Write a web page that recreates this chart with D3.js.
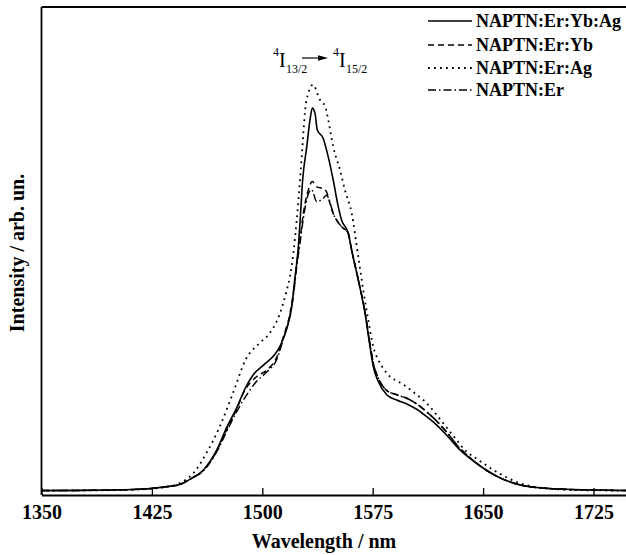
<!DOCTYPE html>
<html>
<head>
	<meta charset="utf-8">
	<title>NAPTN emission spectra</title>
	<script src="https://d3js.org/d3.v7.min.js"></script>
	<style type="text/css">
		body {
			margin: 0;
			background: #fff;
		}
		svg {
			display: block;
			font-family: "Liberation Serif", "Times New Roman", serif;
		}
		.frame {
			stroke: #000;
			stroke-width: 1.8;
			fill: none;
		}
		.legend text {
			font-size: 18px;
			font-weight: bold;
		}
		.spectrum {
			fill: none;
			stroke: #000;
			stroke-linejoin: round;
		}
	</style>
</head>
<body>

<div id="chart"></div>

<script>
	// wavelength (nm) / intensity (arb. un.)
	var wlYbAg = [1350, 1380, 1400, 1415, 1425, 1435, 1444, 1452, 1460, 1469, 1476, 1483, 1488, 1494, 1501, 1509, 1512, 1517, 1520, 1522, 1524.5, 1526, 1527.4, 1530.2, 1532.4, 1534, 1535.8, 1537.4, 1541.4, 1544.8, 1548.2, 1551.6, 1553.9, 1558.4, 1560.7, 1565.2, 1569.8, 1573.2, 1575.4, 1578.8, 1584.5, 1591.3, 1598.1, 1604.9, 1611.7, 1618.5, 1625.3, 1633.2, 1640, 1648, 1661.5, 1675, 1690, 1702, 1730, 1750];
	var inYbAg = [0, 0.05, 0.15, 0.3, 0.5, 0.9, 1.4, 2.8, 4.7, 9.2, 14.5, 19.1, 23.0, 26.4, 28.6, 31.2, 32.8, 37.3, 41.8, 47.9, 55.5, 63.1, 70.6, 78.2, 84.3, 87.0, 85.8, 82.0, 80.1, 75.9, 70.6, 64.6, 61.5, 58.5, 54.7, 47.9, 40.3, 32.7, 28.2, 24.8, 21.8, 20.6, 19.7, 18.5, 16.8, 14.9, 12.6, 9.6, 7.6, 5.6, 2.9, 1.3, 0.6, 0.35, 0.1, 0];

	var wlYb = [1350, 1400, 1425, 1435, 1444, 1452, 1460, 1469, 1476, 1483, 1487, 1496, 1503, 1510, 1514.3, 1518.8, 1521.1, 1523.4, 1525.6, 1527.9, 1531.3, 1534, 1537, 1541.4, 1543.7, 1546, 1548.2, 1550.5, 1553.9, 1558.4, 1560.7, 1565.2, 1569.8, 1573.2, 1575.4, 1578.8, 1584.5, 1591.3, 1598.1, 1604.9, 1611.7, 1618.5, 1625.3, 1633.2, 1640, 1648, 1661.5, 1675, 1690, 1702, 1730, 1750];
	var inYb = [0, 0.15, 0.5, 0.9, 1.4, 2.8, 4.6, 9.0, 14.0, 18.8, 22.1, 25.9, 27.4, 30.5, 35.0, 40.3, 44.9, 51.7, 57.0, 63.1, 68.4, 70.3, 69.1, 68.7, 67.9, 65.3, 63.0, 61.5, 60.0, 58.5, 54.7, 48.0, 40.6, 33.2, 29.0, 25.6, 22.8, 21.8, 21.0, 19.7, 17.9, 15.8, 13.3, 10.0, 7.8, 5.6, 2.9, 1.3, 0.6, 0.35, 0.1, 0];

	var wlAg = [1350, 1399, 1424, 1434, 1444, 1453, 1462, 1471, 1480, 1489, 1498, 1505, 1512, 1516.6, 1518.8, 1521.1, 1523.4, 1525.6, 1526.8, 1527.9, 1529, 1531.3, 1534.4, 1539.2, 1542.8, 1544.8, 1548.2, 1552.8, 1556.2, 1560.7, 1565.2, 1568.6, 1572, 1575.4, 1578.8, 1582.2, 1586.8, 1592.4, 1598.1, 1603.7, 1609.4, 1613.9, 1618.5, 1623, 1627.5, 1632.1, 1636.6, 1648, 1661.5, 1675, 1692, 1716, 1750];
	var inAg = [0, 0.1, 0.4, 0.8, 1.7, 3.9, 8.5, 14.5, 22.1, 30.0, 33.5, 35.8, 40.3, 45.6, 48.7, 54.0, 61.6, 70.6, 76.0, 81.3, 86.2, 90.4, 92.3, 88.9, 87.3, 84.3, 78.2, 72.9, 68.3, 63.1, 53.2, 45.6, 38.8, 32.7, 29.7, 27.8, 25.9, 24.8, 23.6, 22.1, 20.6, 19.1, 17.2, 15.3, 13.4, 11.5, 9.6, 6.7, 3.8, 1.7, 0.5, 0.1, 0];

	var wlEr = [1350, 1400, 1425, 1435, 1444, 1452, 1460, 1469, 1476, 1483, 1487, 1496, 1503, 1510, 1514.3, 1518.8, 1521.1, 1523.4, 1525.6, 1527.9, 1531.3, 1533.5, 1537, 1541.4, 1543.7, 1546, 1548.2, 1550.5, 1553.9, 1558.4, 1560.7, 1565.2, 1569.8, 1573.2, 1575.4, 1578.8, 1584.5, 1591.3, 1598.1, 1604.9, 1611.7, 1618.5, 1625.3, 1633.2, 1640, 1648, 1661.5, 1675, 1690, 1702, 1730, 1750];
	var inEr = [0, 0.15, 0.5, 0.9, 1.4, 2.8, 4.5, 8.8, 13.6, 18.2, 20.5, 24.8, 27.0, 30.0, 34.5, 39.8, 44.3, 51.0, 56.3, 62.0, 67.5, 68.5, 65.7, 66.5, 67.2, 65.5, 63.0, 61.5, 60.0, 58.5, 54.7, 48.0, 40.6, 33.2, 29.0, 25.6, 22.8, 21.8, 21.0, 19.7, 17.9, 15.8, 13.3, 10.0, 7.8, 5.6, 2.9, 1.3, 0.6, 0.35, 0.1, 0];

	var seriesNames = ["NAPTN:Er:Yb:Ag", "NAPTN:Er:Yb", "NAPTN:Er:Ag", "NAPTN:Er"];
	var xTicks = [1350, 1425, 1500, 1575, 1650, 1725];

	var width = 626, height = 555;
	var plotLeft = 41.5, plotTop = 7, plotBottom = 495;
	var serif = '"Liberation Serif", "Times New Roman", serif';

	var series = [
		{name: seriesNames[0], wl: wlYbAg, val: inYbAg, dash: null, sw: 1.6},
		{name: seriesNames[1], wl: wlYb, val: inYb, dash: "6,4", sw: 1.5},
		{name: seriesNames[2], wl: wlAg, val: inAg, dash: "1.8,4.2", sw: 1.8},
		{name: seriesNames[3], wl: wlEr, val: inEr, dash: "8,3,1.5,3", sw: 1.5}
	];

	var x = d3.scaleLinear()
		.domain([1350, 1750])
		.range([plotLeft, plotLeft + 400 * 1.472]);

	var y = d3.scaleLinear()
		.domain([-1, 110])
		.range([plotBottom, plotTop]);

	var svg = d3.select("#chart").append("svg")
		.attr("width", width)
		.attr("height", height);

	svg.append("rect")
		.attr("width", width)
		.attr("height", height)
		.attr("fill", "#fff");

	var line = d3.line()
		.x(function(d){ return x(d[0]); })
		.y(function(d){ return y(d[1]); })
		.curve(d3.curveMonotoneX);

	// spectra
	series.forEach(function(s){
		var pts = s.wl.map(function(w, i){ return [w, s.val[i]]; });
		svg.append("path")
			.attr("class", "spectrum")
			.attr("d", line(pts))
			.attr("stroke-width", s.sw)
			.attr("stroke-dasharray", s.dash);
	});

	// frame: left and top edges, bottom axis
	svg.append("line")
		.attr("class", "frame")
		.attr("x1", plotLeft).attr("x2", plotLeft)
		.attr("y1", plotTop).attr("y2", plotBottom);
	svg.append("line")
		.attr("class", "frame")
		.attr("x1", plotLeft).attr("x2", x(1750))
		.attr("y1", plotTop).attr("y2", plotTop);

	var xAxis = d3.axisBottom(x)
		.tickValues(xTicks)
		.tickSizeInner(-7)
		.tickSizeOuter(0)
		.tickPadding(10)
		.tickFormat(d3.format("d"));

	var gx = svg.append("g")
		.attr("transform", "translate(0," + plotBottom + ")")
		.call(xAxis);
	gx.attr("font-family", serif).attr("font-size", 20).attr("font-weight", "bold");
	gx.select(".domain").attr("stroke-width", 1.8);
	gx.selectAll(".tick line").attr("stroke-width", 1.3);
	gx.selectAll(".tick text")
		.attr("fill", "#000")
		.style("font-family", serif)
		.style("font-size", "20px")
		.style("font-weight", "bold");

	// axis titles
	svg.append("text")
		.attr("x", 324)
		.attr("y", 548)
		.attr("text-anchor", "middle")
		.style("font-size", "20px")
		.style("font-weight", "bold")
		.text("Wavelength / nm");

	svg.append("text")
		.attr("transform", "translate(24,253) rotate(-90)")
		.attr("text-anchor", "middle")
		.style("font-size", "20px")
		.style("font-weight", "bold")
		.text("Intensity / arb. un.");

	// legend
	var legend = svg.append("g").attr("class", "legend");
	var rowY = [21, 45, 68, 90];
	series.forEach(function(s, i){
		legend.append("line")
			.attr("x1", 428).attr("x2", 472)
			.attr("y1", rowY[i]).attr("y2", rowY[i])
			.attr("stroke", "#000")
			.attr("stroke-width", s.sw)
			.attr("stroke-dasharray", s.dash);
		legend.append("text")
			.attr("x", 476)
			.attr("y", rowY[i])
			.attr("dy", "0.35em")
			.text(s.name);
	});

	// transition label 4I13/2 -> 4I15/2
	var note = svg.append("g");
	var addText = function(tx, ty, size, str){
		note.append("text")
			.attr("x", tx).attr("y", ty)
			.style("font-size", size + "px")
			.text(str);
	};
	addText(273, 56, 12, "4");
	addText(279, 67, 20, "I");
	addText(286, 73, 12, "13/2");
	addText(333, 56, 12, "4");
	addText(339, 67, 20, "I");
	addText(346, 73, 12, "15/2");

	note.append("line")
		.attr("x1", 302).attr("x2", 320)
		.attr("y1", 58).attr("y2", 58)
		.attr("stroke", "#000")
		.attr("stroke-width", 1.2);
	note.append("path")
		.attr("d", "M318,55.3L328,58L318,60.7Z")
		.attr("fill", "#000");
</script>

</body>
</html>
